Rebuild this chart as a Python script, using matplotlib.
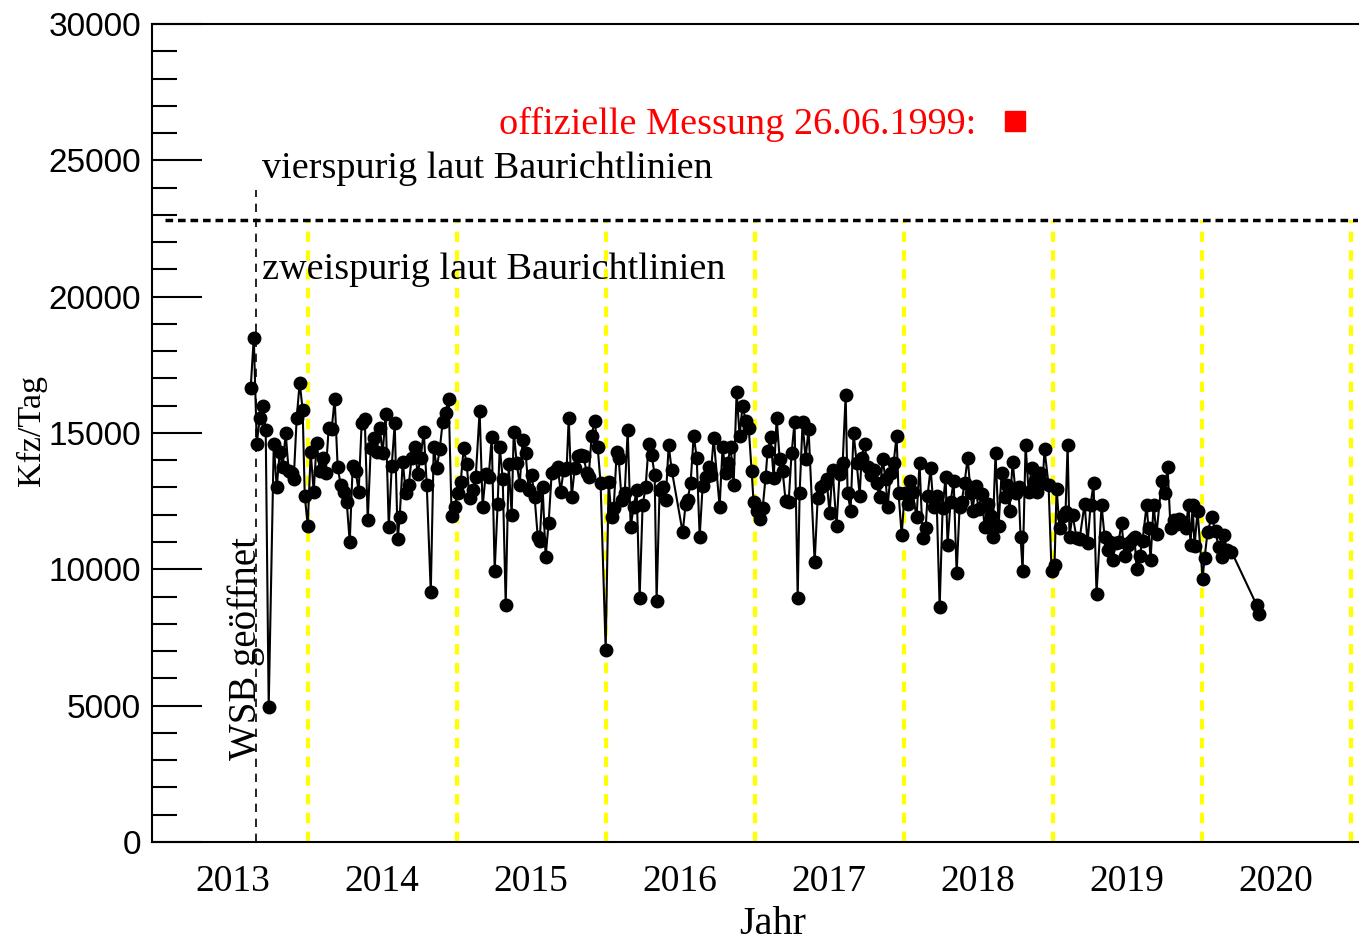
import matplotlib
matplotlib.use("Agg")
import matplotlib.pyplot as plt
from matplotlib.lines import Line2D

# Wochenmittel Kfz/Tag (Jahr als Dezimalzahl)
jahr_2013 = [2013.617, 2013.638, 2013.658, 2013.678, 2013.698, 2013.718, 2013.738, 2013.772,
             2013.792, 2013.812, 2013.832, 2013.852, 2013.872, 2013.893, 2013.906, 2013.926,
             2013.946, 2013.966, 2013.980]
kfz_2013 = [16650, 18500, 14600, 15550, 16000, 15100, 4950, 14600,
            13000, 14300, 13750, 15000, 13600, 13550, 13300, 15550,
            16850, 15850, 12700]

jahr_2014 = [2014.000, 2014.020, 2014.040, 2014.060, 2014.081, 2014.101, 2014.121, 2014.141,
             2014.161, 2014.181, 2014.201, 2014.221, 2014.242, 2014.262, 2014.282, 2014.302,
             2014.322, 2014.342, 2014.362, 2014.383, 2014.403, 2014.423, 2014.443, 2014.463,
             2014.483, 2014.503, 2014.523, 2014.544, 2014.564, 2014.584, 2014.604, 2014.617,
             2014.638, 2014.658, 2014.678, 2014.698, 2014.718, 2014.738, 2014.758, 2014.779,
             2014.799, 2014.826, 2014.846, 2014.866, 2014.886, 2014.906, 2014.926, 2014.946,
             2014.966, 2014.987]
kfz_2014 = [11600, 14300, 12850, 14650, 13600, 14100, 13550, 15200,
            15150, 16250, 13750, 13100, 12850, 12450, 11000, 13800,
            13600, 12850, 15350, 15500, 11800, 14450, 14800, 14300,
            15200, 14250, 15700, 11550, 13800, 15350, 11100, 11900,
            13950, 12800, 13100, 14100, 14500, 13500, 14100, 15050,
            13100, 9150, 14500, 13700, 14400, 15400, 15750, 16250,
            11950, 12300]

jahr_2015 = [2015.007, 2015.027, 2015.047, 2015.067, 2015.087, 2015.107, 2015.128, 2015.154,
             2015.174, 2015.195, 2015.215, 2015.235, 2015.255, 2015.275, 2015.289, 2015.309,
             2015.329, 2015.349, 2015.369, 2015.383, 2015.403, 2015.423, 2015.443, 2015.463,
             2015.483, 2015.503, 2015.523, 2015.544, 2015.557, 2015.577, 2015.597, 2015.617,
             2015.638, 2015.658, 2015.678, 2015.698, 2015.718, 2015.738, 2015.752, 2015.772,
             2015.792, 2015.812, 2015.832, 2015.852, 2015.872, 2015.886, 2015.906, 2015.926,
             2015.946, 2015.966]
kfz_2015 = [12800, 13200, 14450, 13850, 12600, 12900, 13400, 15800,
            12300, 13500, 13400, 14850, 9950, 12400, 14500, 13300,
            8700, 13850, 12000, 15050, 13900, 13100, 14750, 14250,
            12900, 13450, 12650, 11200, 11050, 13000, 10450, 11700,
            13550, 13600, 13750, 12850, 13650, 13700, 15550, 12650,
            13700, 14150, 14200, 14150, 13550, 13400, 14900, 15450,
            14500, 13150]

jahr_2016 = [2016.000, 2016.020, 2016.040, 2016.054, 2016.074, 2016.087, 2016.107, 2016.128,
             2016.148, 2016.168, 2016.188, 2016.208, 2016.228, 2016.248, 2016.268, 2016.289,
             2016.309, 2016.329, 2016.342, 2016.362, 2016.383, 2016.403, 2016.423, 2016.443,
             2016.517, 2016.537, 2016.550, 2016.570, 2016.591, 2016.611, 2016.631, 2016.651,
             2016.671, 2016.691, 2016.705, 2016.725, 2016.765, 2016.785, 2016.805, 2016.819,
             2016.839, 2016.859, 2016.879, 2016.899, 2016.919, 2016.940, 2016.960, 2016.980,
             2016.993]
kfz_2016 = [7050, 13200, 11900, 12250, 14300, 14100, 12550, 12800,
            15100, 11550, 12300, 12900, 8950, 12350, 13000, 14600,
            14200, 13450, 8850, 12900, 13000, 12550, 14550, 13650,
            11350, 12400, 12550, 13150, 14900, 14100, 11200, 13050,
            13400, 13750, 13450, 14800, 12300, 14500, 13550, 13900,
            14500, 13100, 16500, 14900, 16000, 15450, 15200, 13600,
            12450]

jahr_2017 = [2017.013, 2017.034, 2017.054, 2017.074, 2017.087, 2017.107, 2017.128, 2017.148,
             2017.168, 2017.188, 2017.208, 2017.228, 2017.248, 2017.268, 2017.289, 2017.302,
             2017.322, 2017.342, 2017.362, 2017.403, 2017.423, 2017.443, 2017.463, 2017.483,
             2017.503, 2017.523, 2017.550, 2017.570, 2017.591, 2017.611, 2017.624, 2017.644,
             2017.664, 2017.685, 2017.705, 2017.718, 2017.738, 2017.758, 2017.779, 2017.799,
             2017.819, 2017.839, 2017.859, 2017.879, 2017.893, 2017.913, 2017.933, 2017.953,
             2017.966, 2017.987]
kfz_2017 = [12150, 11850, 12250, 13400, 14350, 14850, 13350, 15550,
            14050, 13600, 12500, 12450, 14250, 15400, 8950, 12800,
            15400, 14050, 15150, 10250, 12600, 13000, 13100, 13300,
            12050, 13650, 11600, 13500, 13900, 16400, 12800, 12150,
            15000, 13900, 12700, 14100, 14600, 13750, 13450, 13650,
            13150, 12650, 14050, 13300, 12300, 13550, 13900, 14900,
            12800, 11250]

jahr_2018 = [2018.007, 2018.027, 2018.040, 2018.060, 2018.087, 2018.107, 2018.128, 2018.148,
             2018.161, 2018.181, 2018.201, 2018.221, 2018.242, 2018.262, 2018.282, 2018.295,
             2018.315, 2018.336, 2018.356, 2018.376, 2018.389, 2018.409, 2018.430, 2018.450,
             2018.463, 2018.483, 2018.503, 2018.523, 2018.544, 2018.564, 2018.584, 2018.597,
             2018.617, 2018.638, 2018.658, 2018.678, 2018.691, 2018.711, 2018.732, 2018.752,
             2018.772, 2018.785, 2018.799, 2018.819, 2018.839, 2018.859, 2018.879, 2018.893,
             2018.913, 2018.933, 2018.946, 2018.973, 2018.993]
kfz_2018 = [12800, 12400, 13250, 12850, 11900, 13900, 11150, 11500,
            12700, 13700, 12300, 12700, 8600, 12250, 13400, 10900,
            12450, 13250, 9850, 12300, 12450, 13150, 14100, 12800,
            12150, 13050, 12200, 12750, 11550, 12400, 11950, 11200,
            14250, 11600, 13550, 12650, 13100, 12150, 13950, 12800,
            13000, 11200, 9950, 14550, 12850, 13700, 13250, 12850,
            13550, 13150, 14400, 13100, 9950]

jahr_2019 = [2019.013, 2019.027, 2019.047, 2019.067, 2019.087, 2019.101, 2019.114, 2019.134,
             2019.161, 2019.181, 2019.215, 2019.235, 2019.255, 2019.275, 2019.295, 2019.329,
             2019.349, 2019.369, 2019.383, 2019.403, 2019.423, 2019.443, 2019.463, 2019.483,
             2019.503, 2019.517, 2019.537, 2019.550, 2019.564, 2019.584, 2019.604, 2019.631,
             2019.644, 2019.658, 2019.678, 2019.698, 2019.732, 2019.752, 2019.772, 2019.792,
             2019.812, 2019.832, 2019.852, 2019.872, 2019.893, 2019.913, 2019.926, 2019.940,
             2019.953, 2019.973]
kfz_2019 = [10150, 12950, 11500, 11950, 12100, 14550, 11200, 12000,
            11150, 11100, 12400, 10950, 12350, 13150, 9100, 12350,
            11200, 10700, 11000, 10350, 10950, 11000, 11700, 10500,
            10900, 11000, 11100, 11200, 10000, 10500, 11050, 12350,
            11500, 10350, 12350, 11300, 13250, 12800, 13750, 11500,
            11800, 11650, 11850, 11750, 11500, 12350, 10900, 12350,
            10850, 12150]

jahr_2020 = [2020.007, 2020.020, 2020.040, 2020.067, 2020.094, 2020.114, 2020.134, 2020.154,
             2020.168, 2020.201, 2020.369, 2020.389]
kfz_2020 = [9650, 10400, 11350, 11900, 11400, 10800, 10450, 11250,
            10700, 10650, 8700, 8350]

jahre = jahr_2013 + jahr_2014 + jahr_2015 + jahr_2016 + jahr_2017 + jahr_2018 + jahr_2019 + jahr_2020
kfz = kfz_2013 + kfz_2014 + kfz_2015 + kfz_2016 + kfz_2017 + kfz_2018 + kfz_2019 + kfz_2020

grenze_vierspurig = 22800
wsb_eroeffnung = 2013.655   # Eröffnung der Waldschlösschenbrücke
jahreswechsel = [2014, 2015, 2016, 2017, 2018, 2019, 2020, 2021]
jahr_labels = ['2013', '2014', '2015', '2016', '2017', '2018', '2019', '2020']

serif = ['Liberation Serif', 'DejaVu Serif']
sans = ['Liberation Sans', 'DejaVu Sans']

fig = plt.figure(figsize=(13.6, 9.44), dpi=100)
ax = fig.add_axes([0.1118, 0.1081, 0.8867, 0.8665])

for j in jahreswechsel:
    ax.plot([j, j], [0, grenze_vierspurig], color='yellow', lw=3, ls=(0, (2.5, 2)), zorder=1)
ax.plot([wsb_eroeffnung, wsb_eroeffnung], [0, 23900], color='black', lw=1.2, ls=(0, (5, 4)), zorder=1)
ax.axhline(grenze_vierspurig, xmin=0.011, color='black', lw=2.5, ls=(0, (2.2, 1.4)), zorder=2)

ax.plot(jahre, kfz, color='black', lw=1.5, marker='o', ms=9, zorder=3)

ax.set_xlim(2012.955, 2021.05)
ax.set_ylim(0, 30000)

ax.set_xticks([int(l) + 0.5 for l in jahr_labels])
ax.set_xticklabels(jahr_labels, family=serif, fontsize=27)
ax.tick_params(axis='x', length=0, pad=16)
ax.set_yticks(range(0, 30001, 5000))
ax.set_yticks(range(0, 30001, 1000), minor=True)
ax.tick_params(axis='y', which='major', direction='in', length=36, width=1.5, labelsize=24, pad=8)
ax.tick_params(axis='y', which='minor', direction='in', length=18, width=1.5)
for lab in ax.get_yticklabels():
    lab.set_family(sans)

ax.spines['right'].set_visible(False)
for s in ['left', 'bottom', 'top']:
    ax.spines[s].set_linewidth(1.5)

fig.text(773 / 1360, 1 - 934 / 944, 'Jahr', family=serif, fontsize=29, ha='center', va='baseline')
fig.text(31 / 1360, 1 - 431 / 944, 'Kfz/Tag', family=serif, fontsize=24.5, rotation=90,
         ha='center', va='center')

ax.text(2013.69, 24700, 'vierspurig laut Baurichtlinien', family=serif, fontsize=27.5,
        va='center', ha='left')
ax.text(2013.69, 21000, 'zweispurig laut Baurichtlinien', family=serif, fontsize=27.5,
        va='center', ha='left')
ax.text(2013.59, 7100, 'WSB geöffnet', family=serif, fontsize=28, rotation=90,
        va='center', ha='center')

handle = Line2D([], [], color='red', marker='s', ls='none', ms=14)
leg = ax.legend([handle], ['offizielle Messung 26.06.1999:'], loc='center',
                bbox_to_anchor=(0.511, 0.877), frameon=False, markerfirst=False,
                prop={'family': serif, 'size': 27.5}, labelcolor='red',
                handletextpad=0.4, handlelength=1.2)

fig.savefig('out.png', dpi=100)
